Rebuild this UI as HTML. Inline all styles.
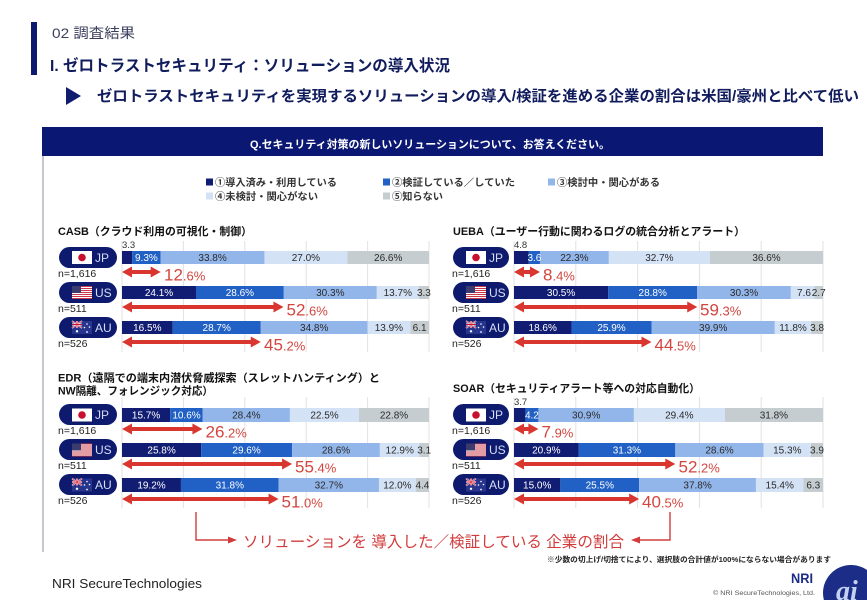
<!DOCTYPE html>
<html><head><meta charset="utf-8"><style>
html,body{margin:0;padding:0;background:#fff;}
svg{display:block;font-family:"Liberation Sans","Noto Sans CJK JP",sans-serif;}
.a{fill:#111d73}.b{fill:#2160c4}.c{fill:#93b6ea}.d{fill:#d4e2f6}.e{fill:#c6cdd1}
.bl{font-size:10px;text-anchor:middle;fill:#2a2a2a}
.bl .w{fill:#fff}
.ar{fill:#d9362f}
.al{fill:#d2463f;font-size:17px}
.al .s{font-size:13px}
.pill{fill:#0e1a6e}
.cc{fill:#d6def5;font-size:12px}
.n{font-size:10.5px;fill:#222}
.ct{font-size:11px;font-weight:bold;fill:#111}
.gl{stroke:#e2e2e2;stroke-width:1}
.lg{font-size:10px;font-weight:bold;fill:#333}
.sm{font-size:9.5px;fill:#333}
</style></head><body>
<svg width="867" height="600" viewBox="0 0 867 600">
<defs>
<g id="jp"><rect width="20" height="13" fill="#fff"/><circle cx="10" cy="6.5" r="3.8" fill="#c8102e"/></g>
<g id="us"><rect width="20" height="13" fill="#fff"/>
<g fill="#c8384a"><rect y="0" width="20" height="1"/><rect y="2" width="20" height="1"/><rect y="4" width="20" height="1"/><rect y="6" width="20" height="1"/><rect y="8" width="20" height="1"/><rect y="10" width="20" height="1"/><rect y="12" width="20" height="1"/></g>
<rect width="9" height="7" fill="#3c3b6e"/></g>
<g id="au"><rect width="20" height="13" fill="#27358f"/>
<path d="M0 0L10 7M10 0L0 7" stroke="#fff" stroke-width="1.6"/><path d="M0 0L10 7M10 0L0 7" stroke="#c8102e" stroke-width="0.6"/>
<path d="M5 0V7M0 3.5H10" stroke="#fff" stroke-width="2"/><path d="M5 0V7M0 3.5H10" stroke="#c8102e" stroke-width="1"/>
<g fill="#fff"><circle cx="5" cy="10.3" r="1.2"/><circle cx="15" cy="3" r="0.8"/><circle cx="12.5" cy="6.5" r="0.8"/><circle cx="17.5" cy="6" r="0.8"/><circle cx="15" cy="11" r="0.9"/></g></g>
</defs>

<!-- page header -->
<rect x="31" y="22" width="6" height="53" fill="#0e1a6e"/>
<text x="52" y="38" font-size="14" fill="#3a3f5c" textLength="83" lengthAdjust="spacingAndGlyphs">02 調査結果</text>
<text x="50" y="71" font-size="16" font-weight="bold" fill="#101c5c" textLength="400" lengthAdjust="spacingAndGlyphs">I. ゼロトラストセキュリティ：ソリューションの導入状況</text>
<polygon points="66,87 81,96 66,105" fill="#101c6e"/>
<text x="97" y="101" font-size="15" font-weight="bold" fill="#101c5c" textLength="762" lengthAdjust="spacingAndGlyphs">ゼロトラストセキュリティを実現するソリューションの導入/検証を進める企業の割合は米国/豪州と比べて低い</text>

<!-- panel -->
<rect x="42" y="127" width="781" height="29" fill="#0b1873"/>
<text x="250" y="148" font-size="11" font-weight="bold" fill="#fff" textLength="360" lengthAdjust="spacingAndGlyphs">Q.セキュリティ対策の新しいソリューションについて、お答えください。</text>
<line x1="43" y1="156" x2="43" y2="552" stroke="#a0a4b0" stroke-width="1.2"/>

<!-- legend -->
<rect x="206" y="178.5" width="7" height="7" class="a"/>
<text x="215" y="186" class="lg" textLength="122" lengthAdjust="spacingAndGlyphs">①導入済み・利用している</text>
<rect x="383" y="178.5" width="7" height="7" class="b"/>
<text x="392" y="186" class="lg" textLength="123" lengthAdjust="spacingAndGlyphs">②検証している／していた</text>
<rect x="548" y="178.5" width="7" height="7" class="c"/>
<text x="557" y="186" class="lg" textLength="103" lengthAdjust="spacingAndGlyphs">③検討中・関心がある</text>
<rect x="206" y="192.5" width="7" height="7" class="d"/>
<text x="215" y="200" class="lg" textLength="103" lengthAdjust="spacingAndGlyphs">④未検討・関心がない</text>
<rect x="383" y="192.5" width="7" height="7" class="e"/>
<text x="392" y="200" class="lg" textLength="51" lengthAdjust="spacingAndGlyphs">⑤知らない</text>

<!-- gridlines -->
<g class="gl">
<line x1="122" y1="241" x2="122" y2="352"/><line x1="183.4" y1="241" x2="183.4" y2="352"/><line x1="244.8" y1="241" x2="244.8" y2="352"/><line x1="306.2" y1="241" x2="306.2" y2="352"/><line x1="367.6" y1="241" x2="367.6" y2="352"/><line x1="429" y1="241" x2="429" y2="352"/>
<line x1="514" y1="241" x2="514" y2="352"/><line x1="575.8" y1="241" x2="575.8" y2="352"/><line x1="637.6" y1="241" x2="637.6" y2="352"/><line x1="699.4" y1="241" x2="699.4" y2="352"/><line x1="761.2" y1="241" x2="761.2" y2="352"/><line x1="823" y1="241" x2="823" y2="352"/>
<line x1="122" y1="397" x2="122" y2="508"/><line x1="183.4" y1="397" x2="183.4" y2="508"/><line x1="244.8" y1="397" x2="244.8" y2="508"/><line x1="306.2" y1="397" x2="306.2" y2="508"/><line x1="367.6" y1="397" x2="367.6" y2="508"/><line x1="429" y1="397" x2="429" y2="508"/>
<line x1="514" y1="397" x2="514" y2="508"/><line x1="575.8" y1="397" x2="575.8" y2="508"/><line x1="637.6" y1="397" x2="637.6" y2="508"/><line x1="699.4" y1="397" x2="699.4" y2="508"/><line x1="761.2" y1="397" x2="761.2" y2="508"/><line x1="823" y1="397" x2="823" y2="508"/>
</g>

<!-- chart titles -->
<text x="58" y="235" class="ct" textLength="194" lengthAdjust="spacingAndGlyphs">CASB（クラウド利用の可視化・制御）</text>
<text x="453" y="235" class="ct" textLength="292" lengthAdjust="spacingAndGlyphs">UEBA（ユーザー行動に関わるログの統合分析とアラート）</text>
<text x="58" y="381.5" class="ct" textLength="322" lengthAdjust="spacingAndGlyphs">EDR（遠隔での端末内潜伏脅威探索（スレットハンティング）と</text>
<text x="58" y="394.5" class="ct" textLength="155" lengthAdjust="spacingAndGlyphs">NW隔離、フォレンジック対応）</text>
<text x="453" y="392" class="ct" textLength="247" lengthAdjust="spacingAndGlyphs">SOAR（セキュリティアラート等への対応自動化）</text>

<!-- pills -->
<g>
<rect x="59" y="247" width="58" height="21" rx="10.5" class="pill"/><use href="#jp" x="72" y="251"/><text x="95" y="262" class="cc">JP</text>
<rect x="59" y="282" width="58" height="21" rx="10.5" class="pill"/><use href="#us" x="72" y="286"/><text x="95" y="297" class="cc">US</text>
<rect x="59" y="317" width="58" height="21" rx="10.5" class="pill"/><use href="#au" x="72" y="321"/><text x="95" y="332" class="cc">AU</text>
<rect x="453" y="247" width="56" height="21" rx="10.5" class="pill"/><use href="#jp" x="466" y="251"/><text x="489" y="262" class="cc">JP</text>
<rect x="453" y="282" width="56" height="21" rx="10.5" class="pill"/><use href="#us" x="466" y="286"/><text x="489" y="297" class="cc">US</text>
<rect x="453" y="317" width="56" height="21" rx="10.5" class="pill"/><use href="#au" x="466" y="321"/><text x="489" y="332" class="cc">AU</text>
<rect x="59" y="404" width="58" height="21" rx="10.5" class="pill"/><use href="#jp" x="72" y="408.5"/><text x="95" y="419" class="cc">JP</text>
<rect x="59" y="439" width="58" height="21" rx="10.5" class="pill"/><use href="#us" x="72" y="443.5"/><text x="95" y="454" class="cc">US</text>
<rect x="59" y="474" width="58" height="21" rx="10.5" class="pill"/><use href="#au" x="72" y="478.5"/><text x="95" y="489" class="cc">AU</text>
<rect x="453" y="404" width="56" height="21" rx="10.5" class="pill"/><use href="#jp" x="466" y="408.5"/><text x="489" y="419" class="cc">JP</text>
<rect x="453" y="439" width="56" height="21" rx="10.5" class="pill"/><use href="#us" x="466" y="443.5"/><text x="489" y="454" class="cc">US</text>
<rect x="453" y="474" width="56" height="21" rx="10.5" class="pill"/><use href="#au" x="466" y="478.5"/><text x="489" y="489" class="cc">AU</text>
</g>
<g class="n">
<text x="58" y="277">n=1,616</text><text x="58" y="312">n=511</text><text x="58" y="347">n=526</text>
<text x="452" y="277">n=1,616</text><text x="452" y="312">n=511</text><text x="452" y="347">n=526</text>
<text x="58" y="434">n=1,616</text><text x="58" y="469">n=511</text><text x="58" y="504">n=526</text>
<text x="452" y="434">n=1,616</text><text x="452" y="469">n=511</text><text x="452" y="504">n=526</text>
</g>

<!-- CASB bars -->
<rect x="122" y="251" width="10.13" height="13" class="a"/><rect x="132.13" y="251" width="28.55" height="13" class="b"/><rect x="160.68" y="251" width="103.77" height="13" class="c"/><rect x="264.45" y="251" width="82.89" height="13" class="d"/><rect x="347.34" y="251" width="81.66" height="13" class="e"/>
<rect x="122" y="286" width="73.99" height="13" class="a"/><rect x="195.99" y="286" width="87.8" height="13" class="b"/><rect x="283.79" y="286" width="93.02" height="13" class="c"/><rect x="376.81" y="286" width="42.06" height="13" class="d"/><rect x="418.87" y="286" width="10.13" height="13" class="e"/>
<rect x="122" y="321" width="50.66" height="13" class="a"/><rect x="172.66" y="321" width="88.1" height="13" class="b"/><rect x="260.76" y="321" width="106.84" height="13" class="c"/><rect x="367.6" y="321" width="42.67" height="13" class="d"/><rect x="410.27" y="321" width="18.73" height="13" class="e"/>
<g class="bl">
<text x="146.4" y="261" class="w">9.3%</text><text x="212.6" y="261">33.8%</text><text x="305.9" y="261">27.0%</text><text x="388.2" y="261">26.6%</text>
<text x="159" y="296" class="w">24.1%</text><text x="239.9" y="296" class="w">28.6%</text><text x="330.3" y="296">30.3%</text><text x="397.8" y="296">13.7%</text><text x="423.9" y="296">3.3</text>
<text x="147.3" y="331" class="w">16.5%</text><text x="216.7" y="331" class="w">28.7%</text><text x="314.2" y="331">34.8%</text><text x="388.9" y="331">13.9%</text><text x="419.6" y="331">6.1</text>
</g>
<text x="122" y="248" class="sm">3.3</text>

<!-- UEBA bars -->
<rect x="514" y="251" width="14.83" height="13" class="a"/><rect x="528.83" y="251" width="11.13" height="13" class="b"/><rect x="539.96" y="251" width="68.9" height="13" class="c"/><rect x="608.86" y="251" width="101.05" height="13" class="d"/><rect x="709.91" y="251" width="113.09" height="13" class="e"/>
<rect x="514" y="286" width="94.25" height="13" class="a"/><rect x="608.25" y="286" width="88.99" height="13" class="b"/><rect x="697.24" y="286" width="93.62" height="13" class="c"/><rect x="790.86" y="286" width="23.49" height="13" class="d"/><rect x="814.35" y="286" width="8.65" height="13" class="e"/>
<rect x="514" y="321" width="57.47" height="13" class="a"/><rect x="571.47" y="321" width="80.04" height="13" class="b"/><rect x="651.51" y="321" width="123.29" height="13" class="c"/><rect x="774.8" y="321" width="36.46" height="13" class="d"/><rect x="811.26" y="321" width="11.74" height="13" class="e"/>
<g class="bl">
<text x="534.4" y="261" class="w">3.6</text><text x="574.4" y="261">22.3%</text><text x="659.4" y="261">32.7%</text><text x="766.5" y="261">36.6%</text>
<text x="561.1" y="296" class="w">30.5%</text><text x="652.7" y="296" class="w">28.8%</text><text x="744.1" y="296">30.3%</text><text x="804" y="296">7.6</text><text x="818.7" y="296">2.7</text>
<text x="542.7" y="331" class="w">18.6%</text><text x="611.5" y="331" class="w">25.9%</text><text x="713.2" y="331">39.9%</text><text x="793" y="331">11.8%</text><text x="817.1" y="331">3.8</text>
</g>
<text x="514" y="248" class="sm">4.8</text>

<!-- EDR bars -->
<rect x="122" y="408" width="48.2" height="14" class="a"/><rect x="170.2" y="408" width="32.54" height="14" class="b"/><rect x="202.74" y="408" width="87.19" height="14" class="c"/><rect x="289.93" y="408" width="69.07" height="14" class="d"/><rect x="359" y="408" width="70" height="14" class="e"/>
<rect x="122" y="443" width="79.21" height="14" class="a"/><rect x="201.21" y="443" width="90.87" height="14" class="b"/><rect x="292.08" y="443" width="87.8" height="14" class="c"/><rect x="379.88" y="443" width="39.6" height="14" class="d"/><rect x="419.48" y="443" width="9.52" height="14" class="e"/>
<rect x="122" y="478" width="58.94" height="14" class="a"/><rect x="180.94" y="478" width="97.63" height="14" class="b"/><rect x="278.57" y="478" width="100.39" height="14" class="c"/><rect x="378.96" y="478" width="36.84" height="14" class="d"/><rect x="415.8" y="478" width="13.2" height="14" class="e"/>
<g class="bl">
<text x="146.1" y="418.5" class="w">15.7%</text><text x="186.5" y="418.5" class="w">10.6%</text><text x="246.3" y="418.5">28.4%</text><text x="324.5" y="418.5">22.5%</text><text x="394" y="418.5">22.8%</text>
<text x="161.6" y="453.5" class="w">25.8%</text><text x="246.6" y="453.5" class="w">29.6%</text><text x="336" y="453.5">28.6%</text><text x="399.7" y="453.5">12.9%</text><text x="424.2" y="453.5">3.1</text>
<text x="151.5" y="488.5" class="w">19.2%</text><text x="229.8" y="488.5" class="w">31.8%</text><text x="328.8" y="488.5">32.7%</text><text x="397.4" y="488.5">12.0%</text><text x="422.4" y="488.5">4.4</text>
</g>

<!-- SOAR bars -->
<rect x="514" y="408" width="11.43" height="14" class="a"/><rect x="525.43" y="408" width="12.98" height="14" class="b"/><rect x="538.41" y="408" width="95.48" height="14" class="c"/><rect x="633.89" y="408" width="90.85" height="14" class="d"/><rect x="724.74" y="408" width="98.26" height="14" class="e"/>
<rect x="514" y="443" width="64.58" height="14" class="a"/><rect x="578.58" y="443" width="96.72" height="14" class="b"/><rect x="675.3" y="443" width="88.37" height="14" class="c"/><rect x="763.67" y="443" width="47.28" height="14" class="d"/><rect x="810.95" y="443" width="12.05" height="14" class="e"/>
<rect x="514" y="478" width="46.35" height="14" class="a"/><rect x="560.35" y="478" width="78.8" height="14" class="b"/><rect x="639.15" y="478" width="116.8" height="14" class="c"/><rect x="755.95" y="478" width="47.58" height="14" class="d"/><rect x="803.53" y="478" width="19.47" height="14" class="e"/>
<g class="bl">
<text x="531.9" y="418.5" class="w">4.2</text><text x="586.2" y="418.5">30.9%</text><text x="679.3" y="418.5">29.4%</text><text x="773.9" y="418.5">31.8%</text>
<text x="546.3" y="453.5" class="w">20.9%</text><text x="626.9" y="453.5" class="w">31.3%</text><text x="719.5" y="453.5">28.6%</text><text x="787.3" y="453.5">15.3%</text><text x="817" y="453.5">3.9</text>
<text x="537.2" y="488.5" class="w">15.0%</text><text x="599.8" y="488.5" class="w">25.5%</text><text x="697.6" y="488.5">37.8%</text><text x="779.7" y="488.5">15.4%</text><text x="813.3" y="488.5">6.3</text>
</g>
<text x="514" y="405" class="sm">3.7</text>

<!-- arrows -->
<g class="ar">
<path d="M122 272l10-5.5v3.5H150.68v-3.5L160.68 272l-10 5.5v-3.5H132v3.5z"/>
<path d="M122 307l10-5.5v3.5H273.48v-3.5L283.48 307l-10 5.5v-3.5H132v3.5z"/>
<path d="M122 342l10-5.5v3.5H250.76v-3.5L260.76 342l-10 5.5v-3.5H132v3.5z"/>
<path d="M122 429l10-5.5v3.5H192.43v-3.5L202.43 429l-10 5.5v-3.5H132v3.5z"/>
<path d="M122 464l10-5.5v3.5H282.08v-3.5L292.08 464l-10 5.5v-3.5H132v3.5z"/>
<path d="M122 499l10-5.5v3.5H268.57v-3.5L278.57 499l-10 5.5v-3.5H132v3.5z"/>
<path d="M514 272l10-5.5v3.5H529.96v-3.5L539.96 272l-10 5.5v-3.5H524v3.5z"/>
<path d="M514 307l10-5.5v3.5H687.24v-3.5L697.24 307l-10 5.5v-3.5H524v3.5z"/>
<path d="M514 342l10-5.5v3.5H641.51v-3.5L651.51 342l-10 5.5v-3.5H524v3.5z"/>
<path d="M514 429l10-5.5v3.5H528.41v-3.5L538.41 429l-10 5.5v-3.5H524v3.5z"/>
<path d="M514 464l10-5.5v3.5H665.3v-3.5L675.3 464l-10 5.5v-3.5H524v3.5z"/>
<path d="M514 499l10-5.5v3.5H629.15v-3.5L639.15 499l-10 5.5v-3.5H524v3.5z"/>
</g>
<g class="al">
<text x="164" y="280.5">12<tspan class="s">.6%</tspan></text>
<text x="286.5" y="315.5">52<tspan class="s">.6%</tspan></text>
<text x="264" y="350.5">45<tspan class="s">.2%</tspan></text>
<text x="205.5" y="437.5">26<tspan class="s">.2%</tspan></text>
<text x="295" y="472.5">55<tspan class="s">.4%</tspan></text>
<text x="281.5" y="507.5">51<tspan class="s">.0%</tspan></text>
<text x="543" y="280.5">8<tspan class="s">.4%</tspan></text>
<text x="700" y="315.5">59<tspan class="s">.3%</tspan></text>
<text x="654.5" y="350.5">44<tspan class="s">.5%</tspan></text>
<text x="541.5" y="437.5">7<tspan class="s">.9%</tspan></text>
<text x="678.5" y="472.5">52<tspan class="s">.2%</tspan></text>
<text x="642" y="507.5">40<tspan class="s">.5%</tspan></text>
</g>

<!-- bottom annotation -->
<g stroke="#d23b3b" stroke-width="1.4" fill="none">
<polyline points="196,512 196,540 229,540"/>
<polyline points="670,512 670,540 639,540"/>
</g>
<polygon points="228,536.5 237,540 228,543.5" fill="#d23b3b"/>
<polygon points="640,536.5 631,540 640,543.5" fill="#d23b3b"/>
<text x="243" y="547" font-size="15.5" fill="#d23b3b" textLength="381" lengthAdjust="spacingAndGlyphs">ソリューションを 導入した／検証している 企業の割合</text>

<text x="547" y="562" font-size="7.5" font-weight="bold" fill="#222" textLength="284" lengthAdjust="spacingAndGlyphs">※少数の切上げ/切捨てにより、選択肢の合計値が100%にならない場合があります</text>

<!-- footer -->
<text x="52" y="588" font-size="13" fill="#222" textLength="150" lengthAdjust="spacingAndGlyphs">NRI SecureTechnologies</text>
<text x="791" y="583" font-size="14" font-weight="bold" fill="#1b2d86" textLength="22" lengthAdjust="spacingAndGlyphs">NRI</text>
<text x="713" y="595" font-size="6" fill="#555" textLength="102" lengthAdjust="spacingAndGlyphs">© NRI SecureTechnologies, Ltd.</text>
<circle cx="851" cy="593" r="28" fill="#1b2d86"/>
<text x="836" y="600" font-size="28" font-style="italic" font-weight="bold" fill="#c4d2f2" font-family="Liberation Serif, serif">ai</text>
</svg>
</body></html>
